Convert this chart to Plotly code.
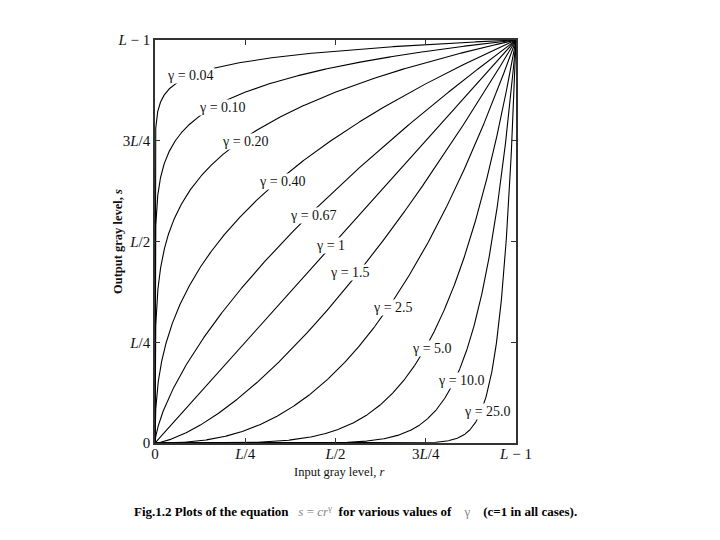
import numpy as np
import plotly.graph_objects as go

gammas = [0.04, 0.10, 0.20, 0.40, 0.67, 1, 1.5, 2.5, 5.0, 10.0, 25.0]
gamma_labels = ["0.04", "0.10", "0.20", "0.40", "0.67", "1", "1.5", "2.5", "5.0", "10.0", "25.0"]
tick_vals = [0, 0.25, 0.5, 0.75, 1]
tick_text = ["0", "<i>L</i>/4", "<i>L</i>/2", "3<i>L</i>/4", "<i>L</i> − 1"]

# label centre positions in pixel space of the reference (layout only)
label_px = [(190, 75), (222, 107), (245, 141), (282, 181), (313, 215), (330, 245),
            (350, 272), (393, 307), (432, 348), (461, 380), (487, 411)]

OFF = 8  # page body margin
X0, X1, Y0, Y1 = 155, 516, 443, 40
W, H = 720 - OFF, 540 - OFF

r = np.unique(np.concatenate([[0.0], np.logspace(-14, 0, 1500), np.linspace(0, 1, 800)]))

fig = go.Figure()
for g in gammas:
    fig.add_trace(go.Scatter(x=r, y=r ** g, mode="lines",
                             line=dict(color="black", width=1.1), showlegend=False,
                             hoverinfo="skip"))

font = dict(family="Liberation Serif", size=14, color="#111")
for lab, (px, py) in zip(gamma_labels, label_px):
    fig.add_annotation(x=(px - X0) / (X1 - X0), y=(Y0 - py) / (Y0 - Y1),
                       xref="x", yref="y", text=f"γ = {lab}", showarrow=False,
                       font=font, bgcolor="white", borderpad=0)

def px2paper_x(px):
    return (px - X0) / (X1 - X0)

def px2paper_y(py):
    return (Y0 - py) / (Y0 - Y1)

fig.add_annotation(xref="paper", yref="paper", x=px2paper_x(118), y=px2paper_y(242),
                   xanchor="center", yanchor="middle",
                   text="<b>Output gray level, <i>s</i></b>", textangle=-90,
                   showarrow=False, font=dict(family="Liberation Serif", size=12.5, color="#111"))
fig.add_annotation(xref="paper", yref="paper", x=px2paper_x(339), y=px2paper_y(472),
                   xanchor="center", yanchor="middle",
                   text="Input gray level, <i>r</i>", showarrow=False,
                   font=dict(family="Liberation Serif", size=12.5, color="#111"))

fig.add_annotation(xref="paper", yref="paper", x=px2paper_x(355), y=px2paper_y(511),
                   xanchor="center", yanchor="middle",
                   text=("<b>Fig.1.2 Plots of the equation</b>   "
                         "<span style='color:#888888'><i>s</i> = <i>cr</i><sup>γ</sup></span>"
                         "  <b>for various values of</b>    <span style='color:#888888'>γ</span>"
                         "    <b>(c=1 in all cases).</b>"),
                   showarrow=False,
                   font=dict(family="Liberation Serif", size=13, color="black"))

axis_common = dict(range=[0, 1], tickvals=tick_vals, ticktext=tick_text,
                   ticks="inside", ticklen=5, tickcolor="#333", tickwidth=1,
                   showline=True, linecolor="#333", linewidth=1.5, mirror="ticks",
                   showgrid=False, zeroline=False,
                   tickfont=dict(family="Liberation Serif", size=15, color="#111"))

fig.update_xaxes(**axis_common, ticklabelstandoff=-4)
fig.update_yaxes(**axis_common)

fig.update_layout(width=W, height=H,
                  margin=dict(l=X0 - OFF, r=720 - X1, t=Y1 - OFF, b=540 - Y0),
                  plot_bgcolor="white", paper_bgcolor="white")

fig.write_html("out.html")
